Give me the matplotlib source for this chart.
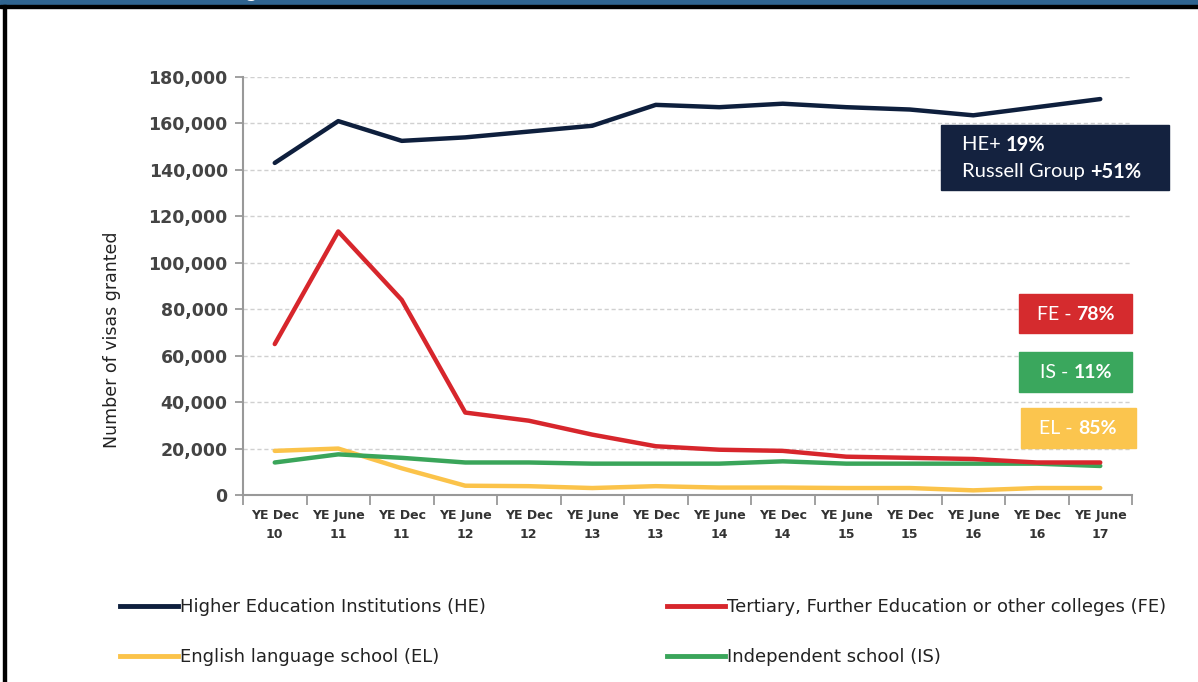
import numpy as np
import matplotlib
matplotlib.use('Agg')
import matplotlib.pyplot as plt
from matplotlib.patches import Rectangle
from matplotlib.lines import Line2D

# periods (two-line tick labels)
periods = ['YE Dec\n10', 'YE June\n11', 'YE Dec\n11', 'YE June\n12', 'YE Dec\n12',
           'YE June\n13', 'YE Dec\n13', 'YE June\n14', 'YE Dec\n14', 'YE June\n15',
           'YE Dec\n15', 'YE June\n16', 'YE Dec\n16', 'YE June\n17']

he = [143000, 161000, 152500, 154000, 156500, 159000, 168000,
      167000, 168500, 167000, 166000, 163500, 167000, 170500]
fe = [65000, 113500, 84000, 35500, 32000, 26000, 21000,
      19500, 19000, 16500, 16000, 15500, 14000, 14000]
el = [19000, 20000, 11500, 4000, 3800, 3000, 3800,
      3200, 3200, 3000, 3000, 2000, 3000, 3000]
is_ = [14000, 17500, 16000, 14000, 14000, 13500, 13500,
       13500, 14500, 13500, 13500, 13500, 13500, 12500]

labels = ['Higher Education Institutions (HE)',
          'Tertiary, Further Education or other colleges (FE)',
          'English language school (EL)',
          'Independent school (IS)']
colors = ['#0e1f3d', '#d7262c', '#fbc34a', '#3aa55a']
box_colors = ['#14223f', '#d52b2e', '#3aa75d', '#fbc54e']

W, H = 1198, 682
fig = plt.figure(figsize=(W / 100, H / 100), dpi=100)

# page frame: blue header band, black rules
fig.patches.append(Rectangle((0, 1 - 5 / H), 1, 5 / H, transform=fig.transFigure,
                             color='#2f6490', zorder=0))
fig.patches.append(Rectangle((0, 1 - 8 / H), 1, 3 / H, transform=fig.transFigure,
                             color='black', zorder=0))
fig.patches.append(Rectangle((3 / W, 0), 3 / W, 1 - 5 / H, transform=fig.transFigure,
                             color='black', zorder=0))
fig.text(232 / W, 1 + 9 / H, 'ng (HE)', color='white', fontsize=15, va='center')

ax = fig.add_axes([243 / W, 1 - 495 / H, 889 / W, 418 / H])
x = np.arange(len(periods))
ax.plot(x, el, color=colors[2], lw=3.2, solid_capstyle='round', zorder=3)
ax.plot(x, is_, color=colors[3], lw=3.2, solid_capstyle='round', zorder=3)
ax.plot(x, fe, color=colors[1], lw=3.2, solid_capstyle='round', zorder=4)
ax.plot(x, he, color=colors[0], lw=3.2, solid_capstyle='round', zorder=4)

ax.set_xlim(-0.5, len(periods) - 0.5)
ax.set_ylim(0, 180000)
ax.set_yticks(np.arange(0, 180001, 20000))
ax.set_yticklabels([f'{v:,}' for v in range(0, 180001, 20000)],
                   fontsize=12.5, color='#444444', fontweight='bold')
ax.set_xticks(x)
ax.set_xticklabels(periods, fontsize=9, fontweight='bold', color='#333333',
                   linespacing=1.6)
ax.set_xticks(np.arange(-0.5, len(periods)), minor=True)
ax.tick_params(axis='x', which='major', length=0, pad=10)
ax.tick_params(axis='x', which='minor', length=7, width=1.3, color='#999999')
ax.tick_params(axis='y', length=6, width=1.3, color='#999999', pad=5)

ax.grid(axis='y', linestyle=(0, (3, 2)), color='#d0d0d0', lw=1)
ax.set_axisbelow(True)
for s in ['top', 'right']:
    ax.spines[s].set_visible(False)
for s in ['left', 'bottom']:
    ax.spines[s].set_color('#999999')
    ax.spines[s].set_linewidth(1.5)

fig.text(112 / W, 1 - 340 / H, 'Number of visas granted', rotation=90,
         ha='center', va='center', fontsize=12.5, color='#222222')

# annotation boxes (figure pixel layout)
renderer = fig.canvas.get_renderer()


def mixed(xp, yp, parts, ha='left', size=14):
    # parts: list of (text, weight); placed left to right
    texts = []
    for t, w in parts:
        texts.append(fig.text(0, 1 - yp / H, t, color='white', fontsize=size,
                              fontweight=w, family='Lato', va='center', zorder=6))
    widths = [t.get_window_extent(renderer).width for t in texts]
    total = sum(widths)
    start = xp if ha == 'left' else xp - total / 2
    for t, wd in zip(texts, widths):
        t.set_x(start / W)
        start += wd


def box(x0, y0, x1, y1, color):
    fig.patches.append(Rectangle((x0 / W, 1 - y1 / H), (x1 - x0) / W, (y1 - y0) / H,
                                 transform=fig.transFigure, color=color, zorder=5))


box(941, 125, 1169, 190, box_colors[0])
mixed(962, 145, [('HE+ ', 'normal'), ('19%', 'bold')], size=14.5)
mixed(962, 172, [('Russell Group ', 'normal'), ('+51%', 'bold')], size=14.5)

box(1019, 294, 1132, 333, box_colors[1])
mixed(1076, 314, [('FE - ', 'normal'), ('78%', 'bold')], ha='center')
box(1019, 352, 1132, 392, box_colors[2])
mixed(1076, 372, [('IS - ', 'normal'), ('11%', 'bold')], ha='center')
box(1021, 408, 1136, 448, box_colors[3])
mixed(1078, 428, [('EL - ', 'normal'), ('85%', 'bold')], ha='center')

# legend: two columns placed separately
handles = [Line2D([], [], color=c, lw=3.5) for c in colors]
legend_font = {'size': 13}
for hs, ls, xa in [([handles[0], handles[2]], [labels[0], labels[2]], 104),
                   ([handles[1], handles[3]], [labels[1], labels[3]], 651)]:
    leg = fig.legend(hs, ls, loc='upper left', bbox_to_anchor=(xa / W, 1 - 582 / H),
                     frameon=False, prop=legend_font, handlelength=3.2,
                     handletextpad=0.1, labelspacing=1.75)
    for t in leg.get_texts():
        t.set_color('#222222')

fig.savefig('out.png', dpi=100, facecolor='white')
